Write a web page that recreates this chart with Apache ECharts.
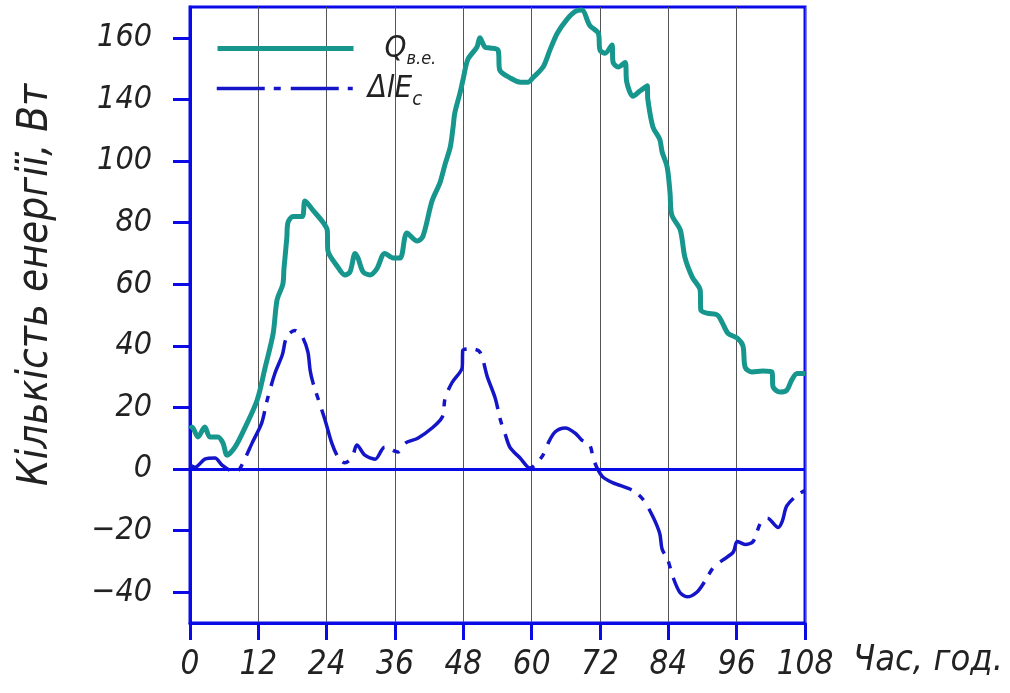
<!DOCTYPE html>
<html><head><meta charset="utf-8">
<script src="https://cdn.jsdelivr.net/npm/echarts@6/dist/echarts.min.js"></script>
<style>html,body{margin:0;padding:0;background:#fff}#c{width:1010px;height:693px}</style>
</head><body><div id="c"></div>
<script>
// Time axis (hours) and tick labels
const xTicks = [0, 12, 24, 36, 48, 60, 72, 84, 96, 108];
// Y tick positions and the labels printed at them (as in the original figure)
const yTickValues = [-40, -20, 0, 20, 40, 60, 80, 100, 120, 140];
const yTickLabels = ['\u221240', '\u221220', '0', '20', '40', '60', '80', '100', '140', '160'];

// Q_в.е. series
const qHours = [0,0.35,1.4,2.6,3.5,4.9,5.8,6.5,7.9,9.7,11.8,13.2,14.6,15.3,16.3,16.5,17.0,17.2,18.1,19.7,20.2,21.6,23.4,24.1,24.2,25.8,27.2,28.1,29.0,29.5,30.4,31.6,32.8,34.2,35.7,36.9,38.1,39.9,40.9,42.5,43.9,44.8,45.7,46.2,46.5,47.4,47.9,48.8,50.4,50.9,51.8,52.7,54.1,54.4,56.2,58.0,59.4,60.2,62.0,63.2,64.5,66.2,67.6,68.8,70.2,71.7,72.0,72.9,74.1,74.3,75.2,76.4,76.7,77.8,79.0,80.3,80.4,81.3,82.5,82.9,83.8,84.3,84.6,86.1,86.9,88.2,89.6,89.7,90.8,92.6,93.5,94.5,96.1,97.1,97.5,98.7,100.6,102.2,102.4,103.6,104.8,105.7,106.6,108];
const qValues = [13,13.6,10.4,13.6,10.4,10.4,8.4,4.5,7.1,13.6,22.4,33,44,55,60,65,75,80,82,82,87,84,80,77.6,71,66,63,64,70,68.5,64,63,65,70,68.5,68.5,76.6,74,75.5,87,93,99,104.5,111,115.6,122,126,133,137,140,137,136.7,136,129.5,127,125.6,125.6,127,130.5,136,141.5,146,148.5,149,144,141.5,136,135,137.7,132,130.5,132,125.6,121,122.7,124.4,120,111,107,103,98,89.6,82.5,77.6,68.8,62.3,58,51.6,50.6,50,47.4,44,42.5,40,33,31.5,31.8,31.5,26.6,25,25.6,29,31,31];

// ΔlE_c series
const dHours = [0,0.9,2.6,4.4,5.6,7.4,8.3,9.3,10.9,12.6,13.5,14.9,16.2,17.0,18.4,19.7,20.7,21.1,21.6,23.7,24.9,26.0,27.2,28.5,29.3,30.7,32.5,34.2,36.5,37.8,40.0,42.5,44.3,44.8,46.0,47.8,47.9,49.2,50.9,52.2,53.6,54.5,55.4,56.2,58.0,59.7,61.8,62.9,64.1,65.9,67.6,68.8,70.2,70.8,71.5,72.5,74.3,77.8,79.6,81.3,82.5,82.9,83.9,84.8,86.0,87.3,89.0,90.4,91.9,93.6,95.4,96.1,97.5,98.9,100.2,101.4,103.3,104.0,104.8,106.6,108];
const dValues = [1.3,0.6,3.2,3.6,1.3,-0.6,-0.6,2,8.4,15,22,31,37,43,45,43,38,32,28,16,8.4,3.9,2,3.9,7.8,4.5,3.2,7.1,5.5,8.4,10,13.3,16.9,23,28,33,38.5,39,38,30,23,16,11,7,3.5,0.3,4,8.4,12,13.3,11.7,9.4,7.8,3.5,0.3,-2.6,-4.5,-7,-10,-15.5,-21,-26,-29.5,-35,-40,-41.5,-40,-36.5,-32,-29.5,-27,-23.5,-24.5,-23.5,-17.5,-16,-19,-17,-12,-8.5,-7];

const qName = 'Q';
const dName = 'dE';
const FONT = "'Liberation Sans Narrow','DejaVu Sans Condensed',sans-serif";
const BLUE = '#0a0ae6';
const TEAL = '#17968e';
const DBLUE = '#1414c8';
const TXT = '#222';
const DASH = [48, 9, 7, 10];

const zip = (a, b) => a.map((v, i) => [v, b[i]]);

const chart = echarts.init(document.getElementById('c'), null, {renderer: 'canvas'});
chart.setOption({
  animation: false,
  backgroundColor: '#fff',
  grid: {left: 190, top: 7, width: 615, height: 616, show: true, borderColor: BLUE, borderWidth: 3, backgroundColor: 'transparent'},
  legend: [
    {
      data: [qName], left: 210, top: 28, itemWidth: 136, itemHeight: 14,
      itemStyle: {opacity: 0},
      lineStyle: {width: 5, color: TEAL},
      textStyle: {
        rich: {
          sp: {width: 26},
          m: {fontFamily: FONT, fontStyle: 'italic', fontSize: 31, color: TXT},
          s: {fontFamily: FONT, fontStyle: 'italic', fontSize: 18, color: TXT, padding: [22, 0, 0, 0]}
        }
      },
      formatter: () => '{sp|}{m|Q}{s|в.е.}'
    },
    {
      data: [dName], left: 210, top: 68, itemWidth: 136, itemHeight: 14,
      itemStyle: {opacity: 0},
      lineStyle: {width: 3.5, color: DBLUE, type: DASH},
      textStyle: {
        rich: {
          sp: {width: 10},
          m: {fontFamily: FONT, fontStyle: 'italic', fontSize: 31, color: TXT},
          s: {fontFamily: FONT, fontStyle: 'italic', fontSize: 20, color: TXT, padding: [22, 0, 0, 0]}
        }
      },
      formatter: () => '{sp|}{m|ΔlE}{s|c}'
    }
  ],
  xAxis: {
    type: 'value', min: 0, max: 108, interval: 12,
    name: 'Час, год.', nameLocation: 'end', nameGap: 48,
    nameTextStyle: {fontFamily: FONT, fontStyle: 'italic', fontSize: 36, color: TXT, align: 'left', verticalAlign: 'top', padding: [20, 0, 0, 0]},
    axisLine: {onZero: false, lineStyle: {color: BLUE, width: 3}},
    axisTick: {show: true, inside: false, length: 17, lineStyle: {color: BLUE, width: 3}},
    axisLabel: {margin: 26, fontFamily: FONT, fontStyle: 'italic', fontSize: 33, color: TXT,
      customValues: xTicks, formatter: v => String(v)},
    splitLine: {show: true, lineStyle: {color: '#555', width: 1}}
  },
  yAxis: {
    type: 'value', min: -50, max: 150,
    name: 'Кількість енергії, Вт', nameLocation: 'middle', nameGap: 133, nameRotate: 90,
    nameTextStyle: {fontFamily: FONT, fontStyle: 'italic', fontSize: 42, color: TXT, padding: [0, 0, 0, 60]},
    axisLine: {show: true, lineStyle: {color: BLUE, width: 3}},
    axisTick: {show: true, inside: false, length: 17, customValues: yTickValues, lineStyle: {color: BLUE, width: 3}},
    axisLabel: {margin: 38, fontFamily: FONT, fontStyle: 'italic', fontSize: 32, color: TXT,
      customValues: yTickValues,
      formatter: v => { const i = yTickValues.indexOf(Math.round(v)); return i >= 0 ? yTickLabels[i] : ''; }},
    splitLine: {show: false}
  },
  series: [
    {
      name: dName, type: 'line', data: zip(dHours, dValues), showSymbol: false, symbol: 'none', smooth: 0.3, z: 3,
      lineStyle: {color: DBLUE, width: 3.5, type: DASH},
      itemStyle: {color: DBLUE},
      markLine: {symbol: 'none', silent: true, label: {show: false}, animation: false,
        lineStyle: {type: 'solid', color: BLUE, width: 3}, data: [{yAxis: 0}]}
    },
    {
      name: qName, type: 'line', data: zip(qHours, qValues), showSymbol: false, symbol: 'none', smooth: 0.3, z: 4,
      lineStyle: {color: TEAL, width: 5},
      itemStyle: {color: TEAL}
    }
  ]
});
</script>
</body></html>
